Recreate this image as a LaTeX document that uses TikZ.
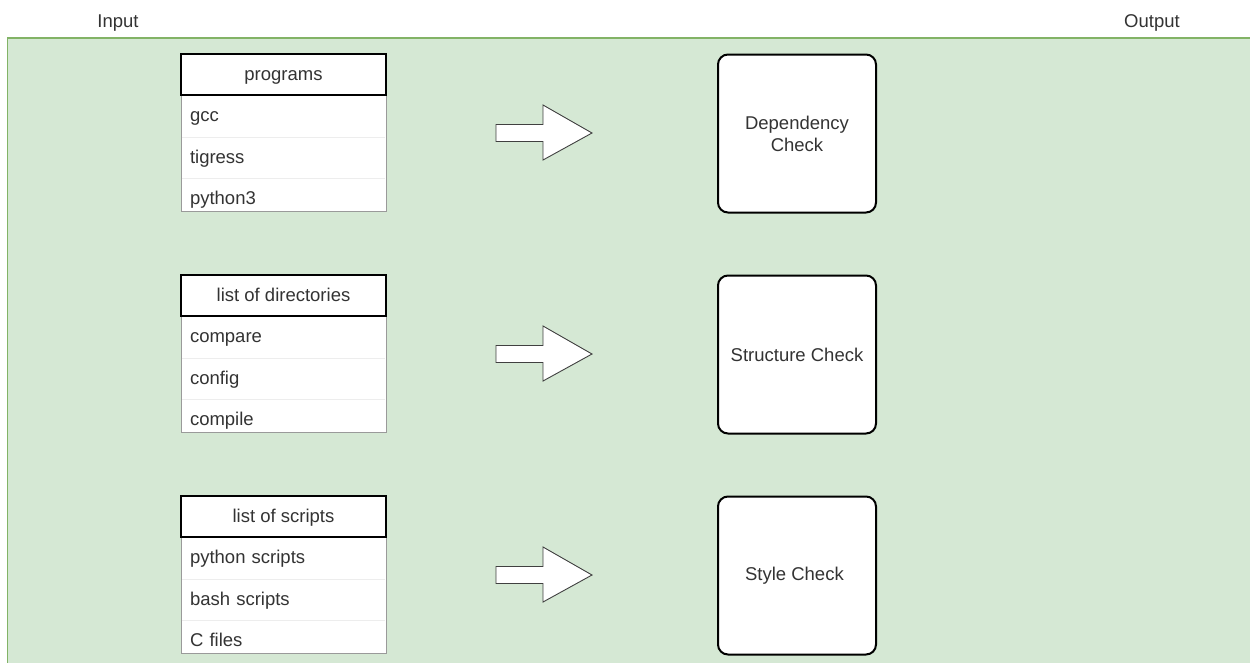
\documentclass[tikz,border=0pt]{standalone}
\usepackage{fontspec}
\setmainfont{Liberation Sans}
\usetikzlibrary{positioning}

\definecolor{panelfill}{HTML}{D5E8D4}
\definecolor{panelline}{HTML}{82B366}
\definecolor{tableline}{HTML}{9A9A9A}
\definecolor{rowline}{HTML}{EDEDED}
\definecolor{labeltext}{HTML}{333333}

\tikzset{
	every node/.style = {font = \fontsize{18.5}{22}\selectfont, text = labeltext},
	tablebox/.style = {draw = tableline, fill = white, line width = 1pt},
	header/.style = {draw = black, fill = white, line width = 1.2pt, minimum width = 205pt, minimum height = 41pt, inner sep = 0pt, text height = 14pt, text depth = 3pt},
	row/.style = {minimum width = 205pt, minimum height = 41pt, text width = 187pt, inner xsep = 9pt, inner ysep = 0pt, align = left, text height = 14pt, text depth = 3pt},
	rowsep/.style = {draw = rowline, line width = 1pt},
	checkbox/.style = {draw = black, fill = white, line width = 2pt, rounded corners = 10pt, minimum width = 158pt, minimum height = 158pt, align = center},
	bigarrow/.style = {draw = black!75, fill = white, line width = 0.9pt, line join = miter}
}

\begin{document}
\begin{tikzpicture}[x = 1pt, y = -1pt]
	\useasboundingbox (0, 0) rectangle (1250, 662);

	% Hintergrund
	\draw [fill = panelfill, draw = panelline, line width = 1.5pt] (7.5, 38) rectangle (1270, 680);
	\node [text height = 14pt, text depth = 3pt] (input) at (118, 22) {Input};
	\node [text height = 14pt, text depth = 3pt] (output) at (1152, 22) {Output};

	% Tabellen, Pfeile und Checks
	\foreach \ty/\name/\head/\ra/\rb/\rc/\chk/\txt in {
		54/prog/programs/gcc/tigress/python3/dep/{Dependency\\Check},
		275/dirs/list of directories/compare/config/compile/struct/{Structure Check},
		496/scripts/list of scripts/python scripts/bash scripts/C files/style/{Style Check}
	} {
		\draw [tablebox] (181, \ty) rectangle (386, \ty+157);
		\node [header] (\name) at (283.5, \ty+20.5) {\head};
		\node [row, below = 0pt of \name] (\name-1) {\ra};
		\node [row, below = 0pt of \name-1] (\name-2) {\rb};
		\node [row, below = 0pt of \name-2] (\name-3) {\rc};
		\draw [rowsep] (\name-1.south west) ++(1, 0) -- ([xshift = -1pt] \name-1.south east);
		\draw [rowsep] (\name-2.south west) ++(1, 0) -- ([xshift = -1pt] \name-2.south east);

		\draw [bigarrow] (496, \ty+70.5) -- (543, \ty+70.5) -- (543, \ty+51) -- (592, \ty+79)
			-- (543, \ty+106) -- (543, \ty+87.5) -- (496, \ty+87.5) -- cycle;

		\node [checkbox] (\chk) at (797, \ty+79.5) {\txt};
	}
\end{tikzpicture}
\end{document}
